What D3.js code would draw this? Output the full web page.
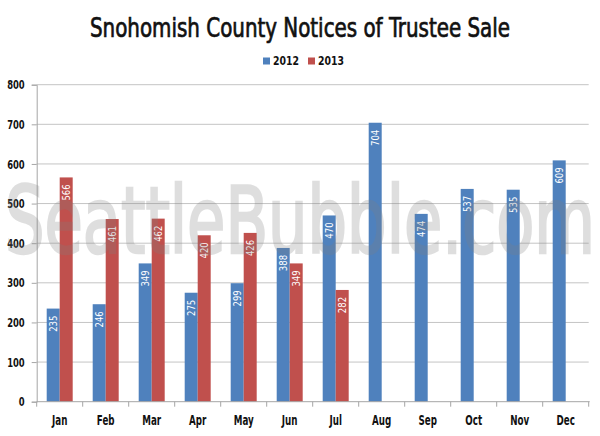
<!DOCTYPE html>
<html><head><meta charset="utf-8">
<script src="https://cdn.jsdelivr.net/npm/d3@7"></script>
<style>body{margin:0;background:#fff}svg{display:block}</style>
</head><body><svg id="c" width="600" height="436"></svg>
<script>
const months = ["Jan","Feb","Mar","Apr","May","Jun","Jul","Aug","Sep","Oct","Nov","Dec"];
const series = ["2012","2013"];
const values2012 = [235,246,349,275,299,388,470,704,474,537,535,609];
const values2013 = [566,461,462,420,426,349,282,null,null,null,null,null];
const yTicks = [0,100,200,300,400,500,600,700,800];
const colors = {"2012":"#4F81BD","2013":"#C0504D"};
const FONT = "'DejaVu Sans Condensed','Liberation Sans Narrow',sans-serif";

const svg = d3.select("#c");
const L = 36.7, R = 588.7, T = 84.7, B = 401.7;
const x = d3.scaleBand().domain(months).range([L,R]).paddingInner(20/46).paddingOuter(10/46);
const xs = d3.scaleBand().domain(series).range([0,x.bandwidth()]);
const y = d3.scaleLinear().domain([0,800]).range([B,T]);

// gridlines
svg.append("g").selectAll("line").data(yTicks.filter(d=>d>0)).join("line")
  .attr("x1",L).attr("x2",R).attr("y1",d=>y(d)).attr("y2",d=>y(d))
  .attr("stroke","#c4c4c4").attr("stroke-width",1);

// y axis
const yAxis = svg.append("g").attr("transform",`translate(${L},0)`)
  .call(d3.axisLeft(y).tickValues(yTicks).tickSize(5).tickPadding(0));
yAxis.select(".domain").attr("stroke","#a6a6a6");
yAxis.selectAll(".tick line").attr("stroke","#a6a6a6");
yAxis.selectAll("text").attr("x",null)
  .attr("transform","translate(-12,0) scale(0.72,1)")
  .attr("font-family",FONT).attr("font-weight","bold")
  .attr("font-size","13px").attr("fill","#111");

// bars
const data = [];
months.forEach((m,i)=>{
  [["2012",values2012[i]],["2013",values2013[i]]].forEach(([s,v])=>{ if(v!=null) data.push({m,s,v}); });
});
const g = svg.append("g");
g.selectAll("rect").data(data).join("rect")
  .attr("x",d=>x(d.m)+xs(d.s)).attr("width",xs.bandwidth())
  .attr("y",d=>y(d.v)).attr("height",d=>y(0)-y(d.v))
  .attr("fill",d=>colors[d.s]);

// data labels
g.selectAll("text").data(data).join("text")
  .attr("transform",d=>`translate(${x(d.m)+xs(d.s)+xs.bandwidth()/2+3.5},${y(d.v)+7}) rotate(-90) scale(0.9,1)`)
  .attr("text-anchor","end").attr("font-family",FONT).attr("font-size","10.5px")
  .attr("fill","#fff").text(d=>d.v);

// x axis
const xAxis = svg.append("g").attr("transform",`translate(0,${B})`);
xAxis.append("line").attr("x1",L).attr("x2",R+1).attr("stroke","#a6a6a6");
const bounds = months.map(m=>x(m)-(x.step()-x.bandwidth())/2).concat([R]);
xAxis.selectAll(".tk").data(bounds).join("line").attr("class","tk")
  .attr("x1",d=>d).attr("x2",d=>d).attr("y1",0).attr("y2",5).attr("stroke","#a6a6a6");
xAxis.selectAll("text").data(months).join("text")
  .attr("transform",d=>`translate(${x(d)+x.bandwidth()/2},23) scale(0.72,1)`)
  .attr("text-anchor","middle").attr("font-family",FONT).attr("font-weight","bold")
  .attr("font-size","13.5px").attr("fill","#111").text(d=>d);

// watermark
svg.append("text").attr("x",5).attr("y",253)
  .attr("font-family",FONT).attr("font-size","93px")
  .attr("textLength",590).attr("lengthAdjust","spacingAndGlyphs")
  .attr("fill","#808080").attr("stroke","#808080").attr("stroke-width",2.5)
  .attr("opacity",0.25).text("SeattleBubble.com");

// title
svg.append("text").attr("x",90).attr("y",37.3)
  .attr("font-family",FONT).attr("font-size","27px").attr("fill","#111")
  .attr("stroke","#111").attr("stroke-width",0.7)
  .attr("textLength",420).attr("lengthAdjust","spacingAndGlyphs")
  .text("Snohomish County Notices of Trustee Sale");

// legend
const lg = svg.append("g");
const lx = [263, 308];
series.forEach((s,i)=>{
  lg.append("rect").attr("x",lx[i]).attr("y",57.5).attr("width",7).attr("height",7).attr("fill",colors[s]);
  lg.append("text").attr("transform",`translate(${lx[i]+10},65) scale(0.8,1)`).attr("font-family",FONT).attr("font-weight","bold")
    .attr("font-size","13px").attr("fill","#111").text(s);
});
</script></body></html>
